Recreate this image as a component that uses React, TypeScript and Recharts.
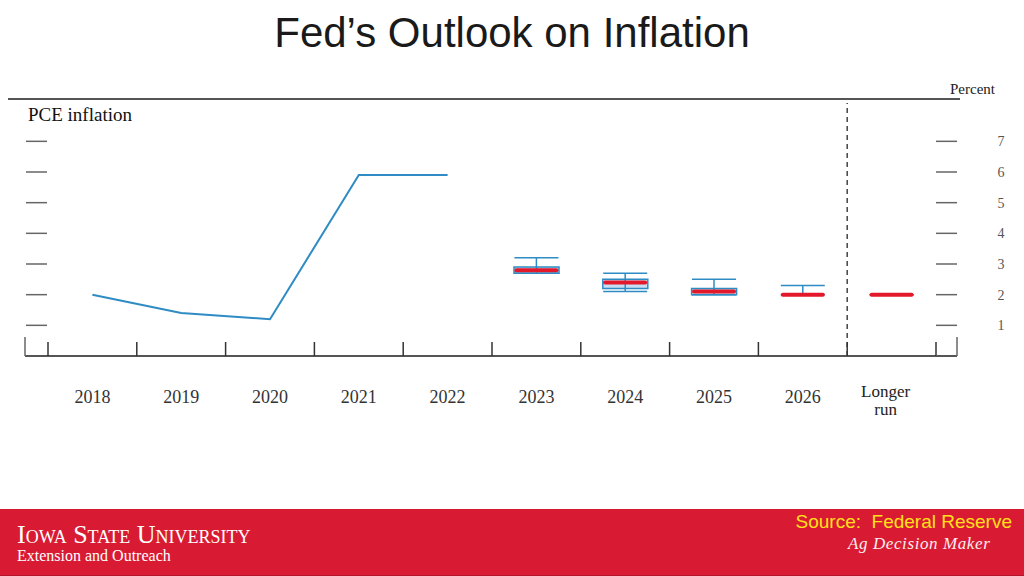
import React from 'react';
import { ComposedChart, Bar, Line, XAxis, YAxis, ReferenceLine, ErrorBar } from 'recharts';

const years = ['2018', '2019', '2020', '2021', '2022', '2023', '2024', '2025', '2026', 'Longer run'];
const actual = [2.0, 1.4, 1.2, 5.9, 5.9, null, null, null, null, null];
const rangeLow = [null, null, null, null, null, 2.7, 2.1, 2.0, 2.0, 2.0];
const centralLow = [null, null, null, null, null, 2.7, 2.2, 2.0, 2.0, 2.0];
const median = [null, null, null, null, null, 2.8, 2.4, 2.1, 2.0, 2.0];
const centralHigh = [null, null, null, null, null, 2.9, 2.5, 2.2, 2.0, 2.0];
const rangeHigh = [null, null, null, null, null, 3.2, 2.7, 2.5, 2.3, 2.0];
const yTicks = [1, 2, 3, 4, 5, 6, 7];

const BLUE = '#2e8bc4';
const RED = '#e3182a';
const PAD_L = 23;
const EXT_R = 21;
const Y_DOMAIN: [number, number] = [0, 8.25];

const data = years.map((year, i) => ({
  year,
  actual: actual[i],
  boxBase: centralLow[i],
  boxSize: centralHigh[i] != null && centralLow[i] != null ? +(centralHigh[i]! - centralLow[i]!).toFixed(2) : null,
  median: median[i],
  err: median[i] != null ? [+(median[i]! - rangeLow[i]!).toFixed(2), +(rangeHigh[i]! - median[i]!).toFixed(2)] : null,
}));

const serif = '"Liberation Serif", "DejaVu Serif", serif';

const XTick = (props: any) => {
  const { x, y, payload, index } = props;
  const half = payload?.offset ?? 44.4;
  const last = index === years.length - 1;
  const label = String(payload.value);
  return (
    <g>
      <line x1={x - half} x2={x - half} y1={y - 14} y2={y} stroke="#333" strokeWidth={1.5} />
      {last && <line x1={x + half} x2={x + half} y1={y - 14} y2={y} stroke="#333" strokeWidth={1.5} />}
      {index === 0 && <line x1={x - half - PAD_L} x2={x - half - PAD_L} y1={y - 19} y2={y} stroke="#666" strokeWidth={1.5} />}
      {last && <line x1={x + half} x2={x + half + EXT_R} y1={y} y2={y} stroke="#555" strokeWidth={2} />}
      {last && <line x1={x + half + EXT_R} x2={x + half + EXT_R} y1={y - 19} y2={y} stroke="#666" strokeWidth={1.5} />}
      {label === 'Longer run' ? (
        <text x={x - 6} y={y + 41} textAnchor="middle" fontFamily={serif} fontSize={17} fill="#222">
          <tspan x={x - 6} dy={0}>Longer</tspan>
          <tspan x={x - 6} dy={18}>run</tspan>
        </text>
      ) : (
        <text x={x} y={y + 47} textAnchor="middle" fontFamily={serif} fontSize={18} fill="#333">{label}</text>
      )}
    </g>
  );
};

const LeftTick = (props: any) => {
  const { x, y } = props;
  return <line x1={x + 1} x2={x + 22} y1={y} y2={y} stroke="#666" strokeWidth={1.5} />;
};

const RightTick = (props: any) => {
  const { x, y, payload, index } = props;
  const v = payload?.value;
  const label = v !== undefined && v !== null && v !== '' ? v : yTicks[index];
  return (
    <g>
      <line x1={x - 21} x2={x} y1={y} y2={y} stroke="#666" strokeWidth={1.5} />
      <text x={x + 44} y={y + 5} textAnchor="middle" fontFamily={serif} fontSize={14} fill="#555">{String(label)}</text>
    </g>
  );
};

const MedianDot = (props: any) => {
  const { cx, cy, payload } = props;
  if (payload?.median == null || cy == null) return <g key={props.index} />;
  return <rect key={props.index} x={cx - 22} y={cy - 2} width={44} height={4} rx={2} fill={RED} />;
};

export default function App() {
  return (
    <div style={{ position: 'relative', width: 1024, height: 576, background: '#fff', overflow: 'hidden' }}>
      <style>{`body{margin:0}`}</style>
      <div style={{ position: 'absolute', top: 8, left: 0, width: 1024, textAlign: 'center', fontFamily: '"Liberation Sans", Arial, sans-serif', fontSize: 42, color: '#1a1a1a', lineHeight: 1.2 }}>
        Fed’s Outlook on Inflation
      </div>
      <div style={{ position: 'absolute', top: 98, left: 8, width: 952, height: 2, background: '#555' }} />
      <div style={{ position: 'absolute', top: 104, left: 28, fontFamily: serif, fontSize: 19, color: '#111' }}>PCE inflation</div>
      <div style={{ position: 'absolute', top: 81, left: 950, fontFamily: serif, fontSize: 15, color: '#222' }}>Percent</div>

      <div style={{ position: 'absolute', top: 509, left: 0, width: 1024, height: 66, background: '#d91a33', borderBottom: '1px solid #b3142a' }}>
        <div style={{ position: 'absolute', top: 16, left: 17, fontFamily: serif, fontSize: 26, lineHeight: '20px', color: '#fff', fontVariant: 'small-caps' }}>Iowa State University</div>
        <div style={{ position: 'absolute', top: 39, left: 17, fontFamily: serif, fontSize: 16, lineHeight: '16px', color: '#fff' }}>Extension and Outreach</div>
        <div style={{ position: 'absolute', top: 2, right: 12, fontFamily: '"Liberation Sans", Arial, sans-serif', fontSize: 19, color: '#ffe11a' }}>Source:&nbsp; Federal Reserve</div>
        <div style={{ position: 'absolute', top: 25, left: 848, fontFamily: serif, fontStyle: 'italic', fontSize: 17, color: '#fbeef0', letterSpacing: 0.6 }}>Ag Decision Maker</div>
      </div>

      <div style={{ position: 'absolute', top: 0, left: 0, width: 1024, height: 576 }}>
        <ComposedChart width={1024} height={576} data={data} margin={{ top: 103, right: 0, left: 0, bottom: 160 }}>
          <XAxis
            dataKey="year"
            interval={0}
            padding={{ left: PAD_L, right: 0 }}
            axisLine={{ stroke: '#555', strokeWidth: 2 }}
            tickLine={false}
            tickSize={0}
            tickMargin={0}
            height={60}
            tick={<XTick />}
          />
          <YAxis yAxisId="left" domain={Y_DOMAIN} ticks={yTicks} width={25} axisLine={false} tickLine={false} tickSize={0} tickMargin={0} tick={<LeftTick />} />
          <YAxis
            yAxisId="right"
            orientation="right"
            domain={Y_DOMAIN}
            ticks={yTicks}
            width={88}
            axisLine={false}
            tickLine={false}
            tickSize={21}
            tickMargin={0}
            tick={<RightTick />}
          />
          <ReferenceLine yAxisId="left" x="Longer run" position="start" stroke="#444" strokeWidth={1.5} strokeDasharray="5 4" />
          <Bar yAxisId="left" dataKey="boxBase" stackId="box" fill="transparent" barSize={45} isAnimationActive={false} />
          <Bar yAxisId="left" dataKey="boxSize" stackId="box" fill="#c9def0" stroke={BLUE} strokeWidth={1.5} barSize={45} isAnimationActive={false} />
          <Line yAxisId="left" dataKey="actual" stroke={BLUE} strokeWidth={2} dot={false} activeDot={false} isAnimationActive={false} />
          <Line yAxisId="right" dataKey="median" stroke="none" strokeWidth={0} dot={<MedianDot />} activeDot={false} isAnimationActive={false}>
            <ErrorBar dataKey="err" width={22} stroke={BLUE} strokeWidth={1.5} direction="y" />
          </Line>
        </ComposedChart>
      </div>
    </div>
  );
}
